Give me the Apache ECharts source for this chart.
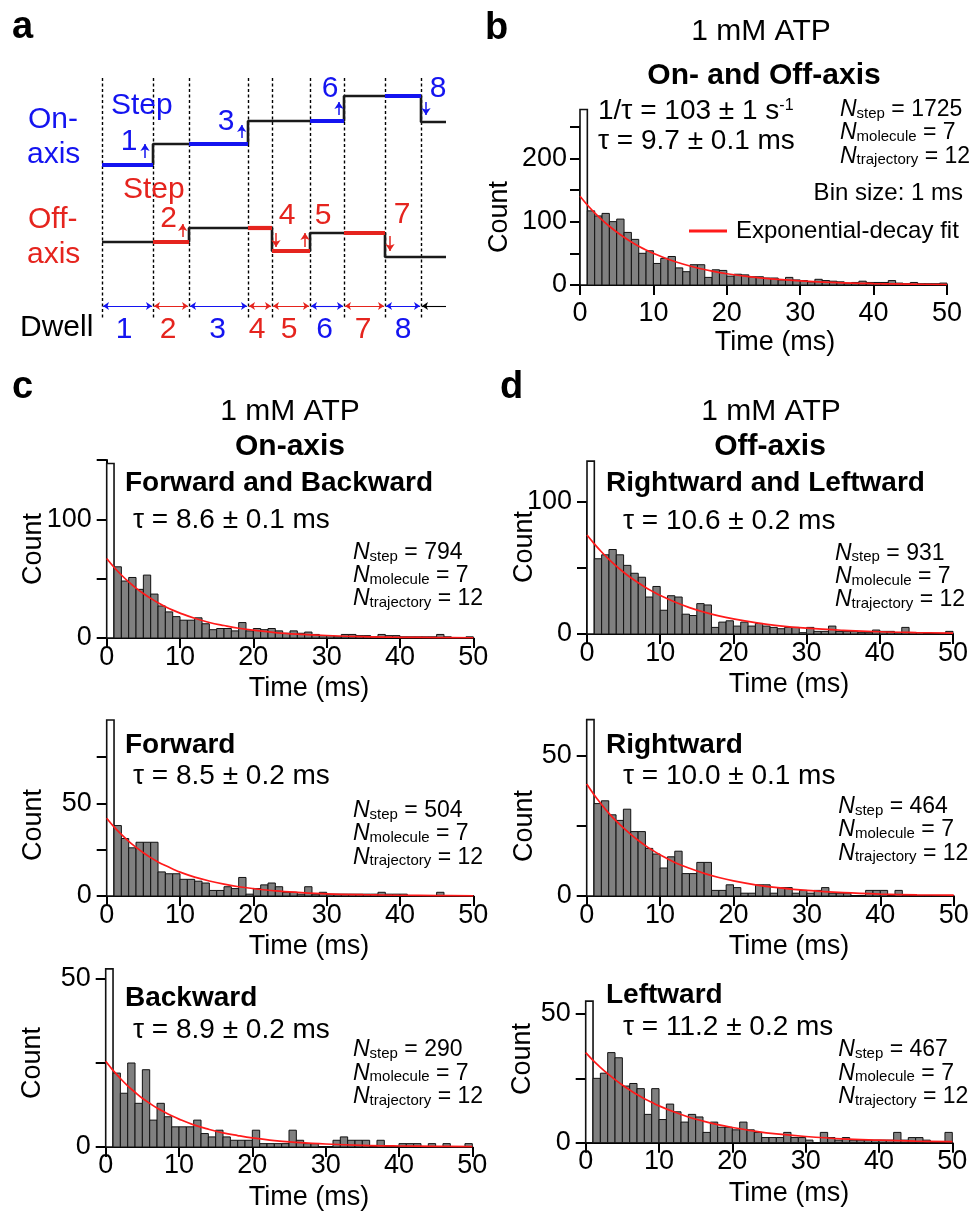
<!DOCTYPE html>
<html><head><meta charset="utf-8">
<script src="https://cdn.jsdelivr.net/npm/echarts@6/dist/echarts.min.js"></script>
<style>html,body{margin:0;padding:0;background:#fff}#c{width:972px;height:1213px}</style>
</head><body><div id="c"></div>
<script>
const FONT = "'Liberation Sans', Arial, Helvetica, sans-serif";
const BLUE = '#1414f0', RED = '#e5241e', FITRED = '#ff1a1a';

// ---------------- data: dwell-time histograms (counts per 1-ms bin) ----------------
const binStartMs = [0,1,2,3,4,5,6,7,8,9,10,11,12,13,14,15,16,17,18,19,20,21,22,23,24,25,26,27,28,29,30,31,32,33,34,35,36,37,38,39,40,41,42,43,44,45,46,47,48,49];
const binWidthMs = 1;
const countsAll      = [277,117,109,113,100,104,83,72,50,54,34,42,45,27,21,32,32,12,24,23,14,17,16,13,13,11,11,8,12,8,7,5,9,7,6,5,3,4,6,4,4,4,7,3,2,4,2,2,2,3];
const countsOnBoth   = [147,60,48,51,41,53,37,27,22,18,15,15,17,12,7,8,8,6,13,6,8,7,8,6,4,6,4,5,3,2,2,1,3,3,2,2,1,3,2,2,1,1,1,1,1,3,1,0,0,1];
const countsForward  = [95,38,31,26,29,29,29,13,12,12,9,9,8,7,3,3,5,4,10,1,4,6,7,5,2,2,1,5,1,2,1,1,1,1,1,1,1,2,1,1,1,0,0,0,0,2,0,0,0,0];
const countsBackward = [53,22,16,25,13,23,8,13,9,6,6,6,8,4,3,5,3,2,2,2,5,1,1,1,1,5,2,1,1,0,0,2,3,2,2,2,0,2,0,0,1,1,1,0,1,0,1,0,0,1];
const countsOffBoth  = [131,57,60,64,60,52,46,43,28,36,18,29,28,15,14,23,22,5,9,10,6,9,6,8,6,5,4,5,5,1,5,2,2,6,2,2,2,1,1,3,2,2,1,5,1,1,0,0,0,2];
const countsRight    = [63,33,34,29,27,31,23,23,17,15,10,14,16,8,8,12,12,2,2,4,3,1,1,4,4,1,3,3,1,2,1,2,3,1,1,1,0,0,2,2,2,0,2,0,0,0,0,0,0,0];
const countsLeft     = [55,25,27,35,33,22,23,21,11,21,9,15,12,8,11,10,4,8,6,6,5,8,5,4,2,2,2,4,2,2,1,0,4,2,1,2,1,1,1,1,1,1,4,1,2,2,1,0,0,4];

// exponential-decay fit curves at these times (ms)
const fitTimes    = [0,1,2,3,4,5,6,7,8,9,10,12,14,16,18,20,23,26,30,35,40,45,50];
const fitAll      = [140,126.3,113.9,102.8,92.7,83.6,75.4,68.0,61.3,55.3,49.9,40.6,33.1,26.9,21.9,17.8,13.1,9.6,6.4,3.8,2.3,1.4,0.8];
const fitOnBoth   = [67,59.6,53.1,47.3,42.1,37.5,33.4,29.7,26.4,23.5,21.0,16.6,13.1,10.5,8.2,6.6,4.6,3.3,2.1,1.1,0.6,0.4,0.2];
const fitForward  = [42,37.3,33.2,29.5,26.3,23.3,20.7,18.4,16.4,14.6,12.9,10.2,8.1,6.4,5.0,4.0,2.8,2.0,1.2,0.7,0.4,0.2,0.1];
const fitBackward = [25.5,22.8,20.4,18.2,16.3,14.5,13.0,11.6,10.4,9.3,8.3,6.6,5.3,4.2,3.4,2.7,1.9,1.4,0.9,0.5,0.3,0.2,0.1];
const fitOffBoth  = [75,68.3,62.1,56.5,51.4,46.8,42.6,38.8,35.3,32.1,29.2,24.2,20.0,16.6,13.7,11.4,8.6,6.4,4.4,2.8,1.7,1.1,0.7];
const fitRight    = [40,36.2,32.8,29.6,26.8,24.3,22.0,19.9,18.0,16.3,14.7,12.0,9.9,8.1,6.6,5.4,4.0,3.0,2.0,1.2,0.7,0.4,0.3];
const fitLeft     = [35,32.0,29.3,26.8,24.5,22.4,20.5,18.7,17.1,15.7,14.3,12.0,10.0,8.4,7.0,5.9,4.5,3.4,2.4,1.5,1.0,0.6,0.4];

// ---------------- data: schematic (panel a), drawing units ----------------
const dwellBoundaries = [102,153,189,248,272,310,344,385,421];
const traceEnd = 446;
const onAxisLevels  = [165,144,144,121,121,121,96,96,122];
const offAxisLevels = [242,242,228,228,251,233,233,257,257];
const dwellAxis = ['on','off','on','off','off','on','off','on'];
const stepArrows = [ // [x, yFrom, yTo, axis]
  [145,158,144,'on'],[241.7,138,125,'on'],[339,115,102,'on'],[426,102,115,'on'],
  [182.7,237,224,'off'],[276,233,247,'off'],[305,247,233,'off'],[390,236,251,'off']
];
const dashTop = 78, dashBottom = 318, dwellArrowY = 306;

// ---------------- layout ----------------
const panels = [
  {counts: countsAll, fit: fitAll, fitName: 'Exponential-decay fit', left:580, top:126.6, width:367, height:158.4, yMax:250, yStep:50, yLabelStep:100, xm:15, ym:13,
   xName:[775,343], yName:[500,217]},
  {counts: countsOnBoth, fit: fitOnBoth, fitName:'fit c1', left:106.7, top:460, width:366.6, height:178, yMax:150, yStep:50, yLabelStep:100, xm:6, ym:15,
   xName:[309,689], yName:[34,549]},
  {counts: countsForward, fit: fitForward, fitName:'fit c2', left:106.7, top:757, width:366.6, height:139, yMax:75, yStep:25, yLabelStep:50, xm:6, ym:15,
   xName:[309,947], yName:[34,825]},
  {counts: countsBackward, fit: fitBackward, fitName:'fit c3', left:105.7, top:979, width:366.6, height:168, yMax:50, yStep:25, yLabelStep:50, xm:5, ym:15,
   xName:[309,1198], yName:[32.5,1063]},
  {counts: countsOffBoth, fit: fitOffBoth, fitName:'fit d1', left:587, top:502, width:366, height:132, yMax:100, yStep:50, yLabelStep:100, xm:6, ym:15,
   xName:[789,685], yName:[525,547]},
  {counts: countsRight, fit: fitRight, fitName:'fit d2', left:586.7, top:756, width:367, height:140, yMax:50, yStep:25, yLabelStep:50, xm:6, ym:15,
   xName:[789,947], yName:[525,826]},
  {counts: countsLeft, fit: fitLeft, fitName:'fit d3', left:585.7, top:1014, width:366.6, height:128.7, yMax:50, yStep:25, yLabelStep:50, xm:5.5, ym:15,
   xName:[789,1194], yName:[522.5,1059]}
];

const grids = [{left:0, top:0, width:480, height:370}];
const xAxes = [{type:'value', gridIndex:0, min:0, max:480, show:false}];
const yAxes = [{type:'value', gridIndex:0, min:0, max:370, inverse:true, show:false}];
const series = [];

// ----- schematic series -----
function tracePoints(levels) {
  const pts = [];
  const bounds = dwellBoundaries.concat([traceEnd]);
  for (let i = 0; i < levels.length; i++) {
    pts.push([bounds[i], levels[i]]);
    pts.push([bounds[i+1], levels[i]]);
  }
  return pts;
}
series.push({type:'lines', coordinateSystem:'cartesian2d', xAxisIndex:0, yAxisIndex:0, silent:true, z:1,
  lineStyle:{color:'#000', width:1.4, type:[3,2.5], opacity:1},
  data: dwellBoundaries.map(b => ({coords:[[b,dashTop],[b,dashBottom]]}))});
series.push({type:'line', xAxisIndex:0, yAxisIndex:0, data: tracePoints(onAxisLevels), symbol:'none', silent:true, z:3, lineStyle:{color:'#1a1a1a', width:2.6}});
series.push({type:'line', xAxisIndex:0, yAxisIndex:0, data: tracePoints(offAxisLevels), symbol:'none', silent:true, z:3, lineStyle:{color:'#1a1a1a', width:2.6}});
series.push({type:'lines', coordinateSystem:'cartesian2d', xAxisIndex:0, yAxisIndex:0, silent:true, z:4,
  data: dwellAxis.map((ax, i) => {
    const lv = ax === 'on' ? onAxisLevels[i] : offAxisLevels[i];
    return {coords:[[dwellBoundaries[i], lv],[dwellBoundaries[i+1], lv]], lineStyle:{color: ax==='on'?BLUE:RED, width:4.2, opacity:1}};
  })});
series.push({type:'lines', coordinateSystem:'cartesian2d', xAxisIndex:0, yAxisIndex:0, silent:true, z:5,
  symbol:['none','arrow'], symbolSize:[1,7],
  data: stepArrows.map(a => ({coords:[[a[0],a[1]],[a[0],a[2]]], lineStyle:{color: a[3]==='on'?BLUE:RED, width:1.5, opacity:1}}))});
series.push({type:'lines', coordinateSystem:'cartesian2d', xAxisIndex:0, yAxisIndex:0, silent:true, z:5,
  symbol:['arrow','arrow'], symbolSize:6,
  data: dwellAxis.map((ax, i) => ({coords:[[dwellBoundaries[i]+1, dwellArrowY],[dwellBoundaries[i+1]-1, dwellArrowY]], lineStyle:{color: ax==='on'?BLUE:RED, width:1.1, opacity:1}}))});
series.push({type:'lines', coordinateSystem:'cartesian2d', xAxisIndex:0, yAxisIndex:0, silent:true, z:5,
  symbol:['none','arrow'], symbolSize:6,
  data: [{coords:[[traceEnd, dwellArrowY],[dwellBoundaries[dwellBoundaries.length-1]+1, dwellArrowY]], lineStyle:{color:'#000', width:1.1, opacity:1}}]});

// ----- histogram panels -----
function renderBin(params, api) {
  const x0 = api.value(0), v = api.value(1);
  const p0 = api.coord([x0, 0]);
  const p1 = api.coord([x0 + binWidthMs, v]);
  const first = params.dataIndex === 0;
  return {type:'rect', shape:{x:p0[0], y:p1[1], width:p1[0]-p0[0], height:p0[1]-p1[1]},
    style:{fill: first ? '#ffffff' : '#808080', stroke:'#111', lineWidth: first ? 1.6 : 1}};
}
const axisCommon = {
  axisLine:{show:true, onZero:false, lineStyle:{color:'#000', width:2}},
  axisTick:{show:true, length:10, lineStyle:{color:'#000', width:2}},
  splitLine:{show:false}
};
panels.forEach((p, k) => {
  const g = k + 1;
  grids.push({left:p.left, top:p.top, width:p.width, height:p.height});
  xAxes.push(Object.assign({type:'value', gridIndex:g, min:0, max:50, interval:10,
    axisLabel:{fontSize:27, color:'#000', fontFamily:FONT, margin:p.xm}}, axisCommon));
  yAxes.push(Object.assign({type:'value', gridIndex:g, min:0, max:p.yMax, interval:p.yStep,
    axisLabel:{fontSize:27, color:'#000', fontFamily:FONT, margin:p.ym,
      formatter: v => (v % p.yLabelStep === 0 ? String(v) : '')}}, axisCommon));
  series.push({type:'custom', xAxisIndex:g, yAxisIndex:g, clip:false, z:2, silent:true,
    data: binStartMs.map((t, i) => [t, p.counts[i]]), renderItem: renderBin});
  series.push({type:'line', name:p.fitName, xAxisIndex:g, yAxisIndex:g, z:5, silent:true, color:FITRED,
    data: fitTimes.map((t, i) => [t, p.fit[i]]), smooth:0.4, symbol:'none', showSymbol:false,
    itemStyle:{color:FITRED}, lineStyle:{color:FITRED, width:1.7}});
});

// ----- texts -----
function T(x, y, text, o) {
  o = o || {};
  const st = {text, fontFamily:FONT, fontSize:o.size||27, fontWeight:o.bold?'bold':'normal',
    fill:o.color||'#000', align:o.align||'left', verticalAlign:'middle'};
  if (o.rich) st.rich = o.rich;
  return {type:'text', x, y, rotation:o.rot||0, silent:true, z:100, style:st};
}
const nRich = {
  n:{fontFamily:FONT, fontSize:23, fontStyle:'italic', fill:'#000'},
  s:{fontFamily:FONT, fontSize:15, lineHeight:12, verticalAlign:'bottom', fill:'#000'},
  t:{fontFamily:FONT, fontSize:23, fill:'#000'}
};
function NLines(x, ys, nStep) {
  return [
    T(x, ys[0], '{n|N}{s|step}{t| = ' + nStep + '}', {rich:nRich}),
    T(x, ys[1], '{n|N}{s|molecule}{t| = 7}', {rich:nRich}),
    T(x, ys[2], '{n|N}{s|trajectory}{t| = 12}', {rich:nRich})
  ];
}
const g = [];
// panel letters
g.push(T(12, 27.5, 'a', {size:38, bold:true}));
g.push(T(485, 28.8, 'b', {size:38, bold:true}));
g.push(T(12, 388, 'c', {size:38, bold:true}));
g.push(T(500, 388, 'd', {size:38, bold:true}));
// panel a
g.push(T(28, 120, 'On-', {size:30, color:BLUE}));
g.push(T(27, 155, 'axis', {size:30, color:BLUE}));
g.push(T(111, 106, 'Step', {size:30, color:BLUE}));
[[129,141.7,'1'],[226,122,'3'],[330,89,'6'],[438,89,'8']].forEach(a => g.push(T(a[0], a[1], a[2], {size:30, color:BLUE, align:'center'})));
g.push(T(28, 220, 'Off-', {size:30, color:RED}));
g.push(T(27, 255, 'axis', {size:30, color:RED}));
g.push(T(123, 190, 'Step', {size:30, color:RED}));
[[168.5,219,'2'],[287,215.5,'4'],[323,215.5,'5'],[402,214.5,'7']].forEach(a => g.push(T(a[0], a[1], a[2], {size:30, color:RED, align:'center'})));
g.push(T(20, 328, 'Dwell', {size:30}));
[[124,'1',BLUE],[168,'2',RED],[217.5,'3',BLUE],[257,'4',RED],[289,'5',RED],[324.7,'6',BLUE],[363,'7',RED],[403,'8',BLUE]].forEach(a => g.push(T(a[0], 330, a[1], {size:30, color:a[2], align:'center'})));
// panel b
g.push(T(761, 31.7, '1 mM ATP', {size:30, align:'center'}));
g.push(T(764, 76, 'On- and Off-axis', {size:30, bold:true, align:'center'}));
g.push(T(598, 111.7, '{m|1/τ = 103 ± 1 s}{sup|-1}', {size:28, rich:{m:{fontFamily:FONT, fontSize:28, fill:'#000'}, sup:{fontFamily:FONT, fontSize:16, lineHeight:16, verticalAlign:'top', fill:'#000'}}}));
g.push(T(598, 141.7, 'τ = 9.7 ± 0.1 ms', {size:28}));
NLines(840, [109.7,133,156.3], 1725).forEach(e => g.push(e));
g.push(T(963, 193.3, 'Bin size: 1 ms', {size:24, align:'right'}));
// panel c
g.push(T(290, 412, '1 mM ATP', {size:30, align:'center'}));
g.push(T(290, 447, 'On-axis', {size:30, bold:true, align:'center'}));
g.push(T(125, 483.3, 'Forward and Backward', {size:28, bold:true}));
g.push(T(133, 520, 'τ = 8.6 ± 0.1 ms', {size:28}));
NLines(353, [552.5,575.8,599], 794).forEach(e => g.push(e));
g.push(T(125, 745, 'Forward', {size:28, bold:true}));
g.push(T(133, 776.7, 'τ = 8.5 ± 0.2 ms', {size:28}));
NLines(353, [810.7,834,857.3], 504).forEach(e => g.push(e));
g.push(T(125, 998, 'Backward', {size:28, bold:true}));
g.push(T(133, 1030, 'τ = 8.9 ± 0.2 ms', {size:28}));
NLines(353, [1050,1073.3,1096.7], 290).forEach(e => g.push(e));
// panel d
g.push(T(771, 412, '1 mM ATP', {size:30, align:'center'}));
g.push(T(770, 447, 'Off-axis', {size:30, bold:true, align:'center'}));
g.push(T(606, 483.3, 'Rightward and Leftward', {size:28, bold:true}));
g.push(T(623, 521.7, 'τ = 10.6 ± 0.2 ms', {size:28}));
NLines(835, [553.3,576.7,600], 931).forEach(e => g.push(e));
g.push(T(606, 745, 'Rightward', {size:28, bold:true}));
g.push(T(623, 776, 'τ = 10.0 ± 0.1 ms', {size:28}));
NLines(838.3, [806.7,830,853.3], 464).forEach(e => g.push(e));
g.push(T(606, 995, 'Leftward', {size:28, bold:true}));
g.push(T(623, 1027, 'τ = 11.2 ± 0.2 ms', {size:28}));
NLines(838.3, [1050,1073.3,1096.7], 467).forEach(e => g.push(e));
// axis titles
panels.forEach(p => {
  g.push(T(p.xName[0], p.xName[1], 'Time (ms)', {size:27, align:'center'}));
  g.push(T(p.yName[0], p.yName[1], 'Count', {size:27, align:'center', rot:Math.PI/2}));
});

const chart = echarts.init(document.getElementById('c'), null, {renderer:'canvas', width:972, height:1213});
chart.setOption({
  animation:false,
  backgroundColor:'#ffffff',
  grid: grids, xAxis: xAxes, yAxis: yAxes, series: series,
  legend: {data:['Exponential-decay fit'], left:684, top:214, icon:'rect', itemWidth:38, itemHeight:3, selectedMode:false,
    itemStyle:{color:FITRED}, textStyle:{fontSize:24, color:'#000', fontFamily:FONT, padding:[0,0,0,4]}},
  graphic: g
});
</script></body></html>
